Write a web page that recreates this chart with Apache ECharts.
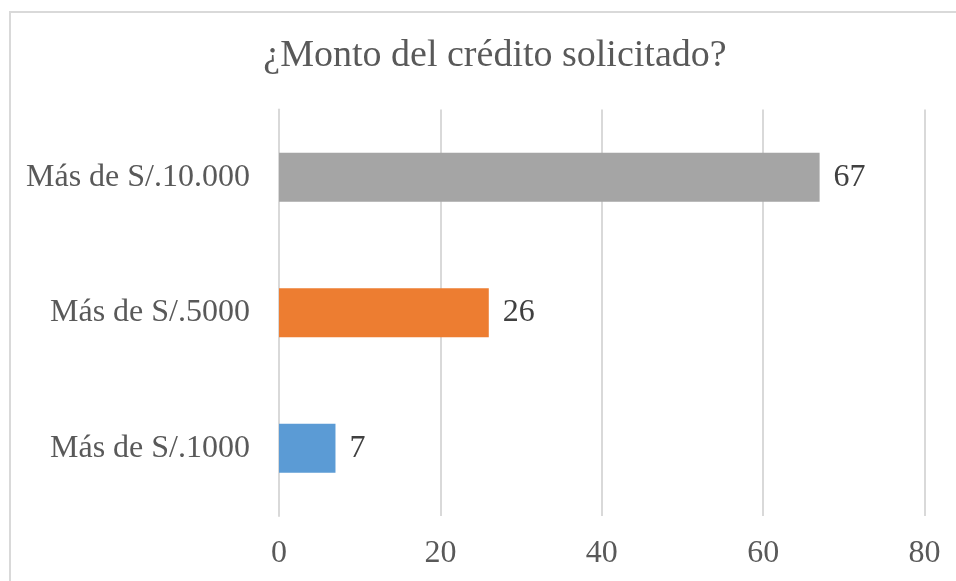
<!DOCTYPE html>
<html>
<head>
<meta charset="utf-8">
<script src="https://cdn.jsdelivr.net/npm/echarts@6/dist/echarts.min.js"></script>
<style>
  html, body { margin: 0; padding: 0; background: #fff; }
  #main { width: 956px; height: 581px; }
</style>
</head>
<body>
<div id="main"></div>
<script>
// datos
var categorias = ['Más de S/.1000', 'Más de S/.5000', 'Más de S/.10.000'];
var valores = [7, 26, 67];
var colores = ['#5B9BD5', '#ED7D31', '#A5A5A5'];
var tituloTexto = '¿Monto del crédito solicitado?';

var fuente = '"Liberation Serif", "DejaVu Serif", serif';
var myChart = echarts.init(document.getElementById('main'));
var option = {
    backgroundColor: '#fff',
    animation: false,
    title: {
        text: tituloTexto,
        left: 490,
        textAlign: 'center',
        top: 32,
        textStyle: { fontFamily: fuente, fontSize: 38, fontWeight: 'normal', color: '#595959' }
    },
    // borde del área del gráfico
    graphic: [{
        type: 'rect',
        shape: { x: 10, y: 12, width: 1000, height: 1000 },
        style: { fill: 'none', stroke: '#D9D9D9', lineWidth: 2 },
        silent: true
    }],
    grid: { left: 279, right: 31.5, top: 109.5, bottom: 65, containLabel: false },
    xAxis: {
        type: 'value',
        min: 0,
        max: 80,
        interval: 20,
        axisLine: { show: false },
        axisTick: { show: false },
        axisLabel: { fontFamily: fuente, fontSize: 32, color: '#595959', margin: 22 },
        splitLine: { lineStyle: { color: '#D9D9D9', width: 2 } }
    },
    yAxis: {
        type: 'category',
        data: categorias,
        axisLine: { show: true, lineStyle: { color: '#D9D9D9', width: 2 } },
        axisTick: { show: false },
        axisLabel: { fontFamily: fuente, fontSize: 32, color: '#595959', margin: 29 }
    },
    series: [{
        type: 'bar',
        data: valores.map(function (v, i) {
            return { value: v, itemStyle: { color: colores[i] } };
        }),
        barWidth: '36%',
        label: {
            show: true,
            position: 'right',
            distance: 14,
            fontFamily: fuente,
            fontSize: 32,
            color: '#404040'
        }
    }]
};
option && myChart.setOption(option);
</script>
</body>
</html>
